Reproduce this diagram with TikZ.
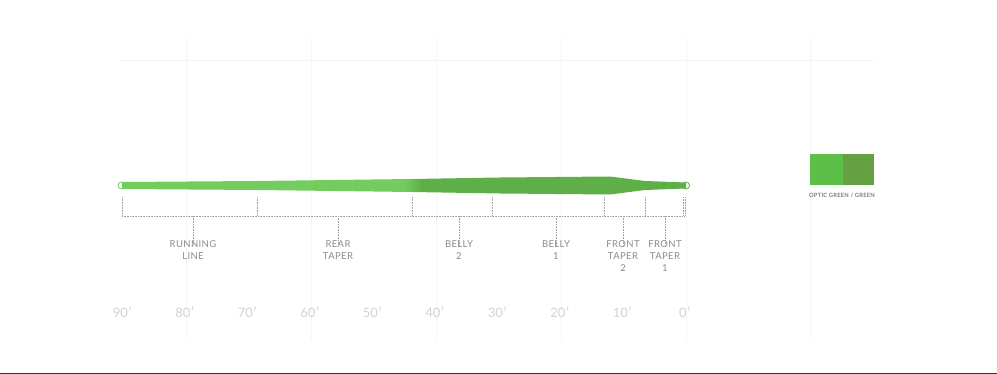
\documentclass[tikz,border=0pt]{standalone}
\usepackage{fontspec}
\setmainfont{Lato}
\definecolor{runcolor}{HTML}{72CC5E}
\definecolor{bellycolor}{HTML}{5EAF47}
\definecolor{opticgreen}{HTML}{5BBF48}
\definecolor{plaingreen}{HTML}{65A142}
\definecolor{labelgray}{HTML}{8A8A8A}
\definecolor{rulergray}{HTML}{D2D2D2}
\definecolor{gridgray}{HTML}{F5F5F5}

\tikzset{
  bracket/.style={densely dotted, labelgray!80, line width=0.6pt},
  section/.style={labelgray, font=\fontsize{9.5}{12}\selectfont\addfontfeature{LetterSpace=4}, align=center, anchor=north, inner sep=0pt},
  ruler/.style={rulergray, font=\fontsize{13}{13}\selectfont, inner sep=0pt},
}

\begin{document}
\begin{tikzpicture}[x=1pt, y=-1pt]
\useasboundingbox (0,0) rectangle (997,374);
% Background grid
\foreach \x in {186,311,436,561,686,810}
  \draw[gridgray, line width=0.5pt] (\x,38) -- (\x,340);
\draw[gridgray, line width=0.5pt] (120,60) -- (875,60);
% Bottom rule
\draw[black!80, line width=1pt] (0,373.5) -- (997,373.5);

% Loops at both ends
\draw[runcolor, line width=0.8pt, fill=white] (121.5,185.5) circle (3.5);
\draw[bellycolor, line width=0.8pt, fill=white] (686,185.5) circle (3.5);

% Fly line profile
\begin{scope}
  \clip (122,182) -- (257,181) -- (412,179) -- (500,177.5) -- (610,176.5)
    -- (645,181) -- (686,182.5) -- (686,188.5) -- (645,190) -- (610,194.5)
    -- (500,193.5) -- (412,192) -- (257,190) -- (122,189) -- cycle;
  \fill[runcolor] (110,170) rectangle (405,200);
  \shade[left color=runcolor, right color=bellycolor] (404,170) rectangle (422,200);
  \fill[bellycolor] (421,170) rectangle (700,200);
\end{scope}

% Section ticks
\coordinate (base) at (0,216);
\foreach \x in {122,257,412,492,604,645,683,685}
  \draw[bracket] (\x,197) -- (\x,216);
\draw[bracket] (122,216) -- (685,216);

% Section labels
\node[section] (rl) at (193,240) {RUNNING\\LINE};
\node[section] (rt) at (338,240) {REAR\\TAPER};
\node[section] (b2) at (459,240) {BELLY\\2};
\node[section] (b1) at (556,240) {BELLY\\1};
\node[section] (ft2) at (623,240) {FRONT\\TAPER\\2};
\node[section] (ft1) at (665,240) {FRONT\\TAPER\\1};
\foreach \n in {rl,rt,b2,b1,ft2,ft1}
  \draw[bracket] (\n.north |- base) -- ([yshift=-5pt]\n.north);

% Length ruler
\foreach \d in {90,80,...,0}
  \node[ruler] (r\d) at (685-6.25*\d,312) {\d′};

% Colour swatch
\fill[opticgreen] (810,154) rectangle (843,185);
\fill[plaingreen] (843,154) rectangle (874,185);
\node[labelgray!90!black, font=\fontsize{5.8}{6}\selectfont\bfseries\addfontfeature{LetterSpace=4}, inner sep=0pt] (sw) at (842,195.5) {OPTIC GREEN / GREEN};
\end{tikzpicture}
\end{document}
